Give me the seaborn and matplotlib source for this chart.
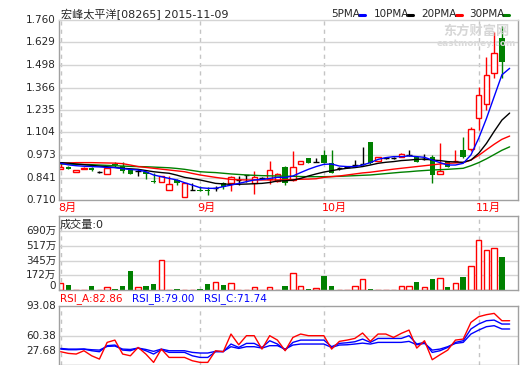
import matplotlib
matplotlib.use("Agg")
import matplotlib.pyplot as plt
import seaborn as sns

# data (price in HKD, volume in 万)
title = "宏峰太平洋[08265] 2015-11-09"
opens = [0.890, 0.905, 0.875, 0.890, 0.895, 0.871, 0.861, 0.922, 0.910, 0.885,
         0.879, 0.872, 0.821, 0.813, 0.768, 0.828, 0.729, 0.768, 0.771, 0.771,
         0.780, 0.807, 0.812, 0.826, 0.855, 0.812, 0.836, 0.830, 0.820, 0.904,
         0.825, 0.922, 0.955, 0.932, 0.973, 0.924, 0.899, 0.905, 0.914, 0.920,
         1.050, 0.940, 0.955, 0.955, 0.963, 0.970, 0.963, 0.950, 0.963, 0.862,
         0.934, 0.935, 1.002, 1.006, 1.186, 1.270, 1.449, 1.653]
highs = [0.930, 0.910, 0.885, 0.900, 0.900, 0.878, 0.894, 0.930, 0.930, 0.886,
         0.890, 0.877, 0.870, 0.850, 0.850, 0.835, 0.807, 0.807, 0.790, 0.785,
         0.792, 0.815, 0.850, 0.850, 0.857, 0.880, 0.845, 0.940, 0.870, 0.910,
         0.995, 0.940, 0.957, 0.955, 1.000, 1.000, 0.900, 0.910, 0.943, 1.020,
         1.050, 0.960, 0.963, 0.960, 0.985, 1.000, 0.965, 0.980, 0.970, 1.040,
         0.940, 1.000, 1.080, 1.138, 1.367, 1.546, 1.692, 1.725]
lows = [0.888, 0.888, 0.875, 0.888, 0.882, 0.866, 0.861, 0.905, 0.870, 0.860,
        0.852, 0.835, 0.812, 0.813, 0.766, 0.800, 0.725, 0.768, 0.762, 0.737,
        0.765, 0.775, 0.765, 0.800, 0.815, 0.745, 0.830, 0.805, 0.815, 0.800,
        0.820, 0.918, 0.924, 0.930, 0.926, 0.866, 0.885, 0.895, 0.910, 0.914,
        0.920, 0.935, 0.948, 0.950, 0.960, 0.965, 0.930, 0.945, 0.810, 0.860,
        0.900, 0.930, 0.953, 0.998, 1.120, 1.235, 1.420, 1.420]
closes = [0.900, 0.892, 0.885, 0.898, 0.885, 0.871, 0.894, 0.913, 0.878, 0.862,
          0.879, 0.864, 0.814, 0.850, 0.803, 0.810, 0.807, 0.768, 0.764, 0.764,
          0.780, 0.784, 0.845, 0.826, 0.855, 0.845, 0.836, 0.885, 0.860, 0.810,
          0.902, 0.936, 0.926, 0.932, 0.928, 0.870, 0.899, 0.905, 0.914, 0.920,
          0.924, 0.959, 0.955, 0.955, 0.976, 0.970, 0.934, 0.950, 0.856, 0.879,
          0.905, 0.940, 0.959, 1.122, 1.322, 1.439, 1.565, 1.517]
volume = [88, 57, 3, 3, 46, 3, 31, 11, 46, 218, 31, 46, 69, 353, 3, 11, 3, 3, 11, 69,
          92, 57, 88, 3, 3, 31, 3, 31, 3, 46, 195, 42, 11, 23, 161, 46, 3, 3, 42, 134,
          8, 3, 3, 3, 42, 42, 92, 31, 126, 146, 34, 80, 150, 288, 583, 468, 491, 391]

# indicator lines run one day further (11-09, no trades)
ma5 = [0.924, 0.915, 0.910, 0.907, 0.905, 0.903, 0.900, 0.899, 0.893, 0.888,
       0.885, 0.875, 0.856, 0.846, 0.836, 0.827, 0.811, 0.797, 0.782, 0.778,
       0.778, 0.788, 0.797, 0.807, 0.817, 0.827, 0.830, 0.836, 0.842, 0.842,
       0.850, 0.870, 0.889, 0.905, 0.918, 0.920, 0.908, 0.905, 0.905, 0.914,
       0.928, 0.947, 0.957, 0.963, 0.963, 0.967, 0.963, 0.959, 0.943, 0.928,
       0.914, 0.914, 0.924, 0.973, 1.070, 1.185, 1.313, 1.440, 1.478]
ma10 = [0.928, 0.925, 0.920, 0.916, 0.912, 0.908, 0.904, 0.900, 0.895, 0.892,
        0.889, 0.882, 0.875, 0.870, 0.866, 0.855, 0.842, 0.835, 0.827, 0.817,
        0.807, 0.804, 0.801, 0.802, 0.803, 0.805, 0.807, 0.812, 0.821, 0.822,
        0.826, 0.836, 0.850, 0.862, 0.873, 0.881, 0.889, 0.895, 0.899, 0.905,
        0.914, 0.924, 0.930, 0.934, 0.940, 0.943, 0.947, 0.949, 0.943, 0.940,
        0.934, 0.932, 0.930, 0.943, 0.982, 1.040, 1.110, 1.176, 1.217]
ma20 = [0.924, 0.926, 0.928, 0.928, 0.928, 0.927, 0.926, 0.925, 0.922, 0.914,
        0.905, 0.900, 0.895, 0.890, 0.885, 0.880, 0.875, 0.865, 0.856, 0.849,
        0.842, 0.836, 0.830, 0.828, 0.827, 0.827, 0.827, 0.827, 0.827, 0.828,
        0.830, 0.831, 0.832, 0.834, 0.842, 0.846, 0.850, 0.856, 0.862, 0.868,
        0.872, 0.878, 0.884, 0.890, 0.895, 0.900, 0.905, 0.910, 0.915, 0.920,
        0.924, 0.926, 0.928, 0.943, 0.970, 1.003, 1.035, 1.064, 1.083]
ma30 = [0.920, 0.919, 0.918, 0.917, 0.916, 0.914, 0.912, 0.910, 0.908, 0.906,
        0.905, 0.904, 0.902, 0.900, 0.898, 0.894, 0.889, 0.882, 0.875, 0.872,
        0.870, 0.866, 0.862, 0.859, 0.856, 0.854, 0.852, 0.851, 0.850, 0.849,
        0.848, 0.847, 0.846, 0.846, 0.846, 0.847, 0.848, 0.850, 0.852, 0.854,
        0.856, 0.860, 0.864, 0.868, 0.872, 0.875, 0.879, 0.882, 0.885, 0.887,
        0.889, 0.892, 0.895, 0.910, 0.928, 0.950, 0.975, 1.000, 1.020]

rsi_a = [42.9, 41.1, 40.4, 44.0, 38.5, 34.9, 53.1, 55.6, 40.4, 38.5,
         47.6, 40.4, 31.3, 45.8, 36.7, 36.7, 36.7, 33.1, 31.3, 31.3,
         44.0, 42.9, 62.2, 50.5, 60.4, 60.4, 45.8, 60.4, 55.6, 44.0,
         58.5, 62.2, 60.4, 60.4, 60.4, 45.8, 54.2, 55.6, 57.4, 63.3,
         54.2, 62.2, 62.2, 58.5, 62.9, 66.5, 46.9, 54.9, 34.2, 39.6,
         44.7, 55.6, 56.7, 74.9, 81.1, 83.3, 84.7, 76.7, 76.7]
rsi_b = [45.8, 45.1, 45.1, 45.8, 44.0, 42.9, 49.5, 50.2, 44.7, 44.0,
         46.9, 44.0, 40.4, 45.1, 42.2, 42.2, 42.2, 38.5, 36.7, 36.7,
         42.9, 42.9, 51.3, 47.6, 52.0, 52.0, 47.6, 54.9, 51.3, 44.7,
         53.1, 55.6, 55.6, 55.6, 55.6, 48.4, 52.0, 52.7, 53.8, 56.7,
         53.1, 57.4, 57.4, 57.4, 57.4, 60.4, 51.3, 53.1, 42.2, 44.0,
         47.6, 53.1, 54.9, 67.7, 73.1, 76.7, 77.4, 73.1, 73.1]
rsi_c = [46.5, 45.8, 45.8, 45.8, 45.1, 44.7, 48.7, 49.1, 45.8, 45.4,
         46.9, 45.4, 43.3, 45.8, 44.0, 44.0, 44.0, 42.2, 41.5, 41.5,
         43.3, 43.3, 48.4, 46.5, 48.4, 48.4, 46.9, 49.5, 49.5, 45.8,
         50.2, 51.3, 51.3, 51.3, 51.3, 47.6, 50.2, 50.5, 51.3, 52.3,
         51.3, 53.1, 53.1, 53.1, 53.1, 54.2, 50.5, 52.0, 44.7, 45.8,
         48.4, 52.0, 53.1, 62.2, 66.5, 70.2, 71.3, 67.7, 67.7]

price_ticks = [0.710, 0.841, 0.973, 1.104, 1.235, 1.366, 1.498, 1.629, 1.760]
price_labels = ["0.710", "0.841", "0.973", "1.104", "1.235", "1.366", "1.498", "1.629", "1.760"]
vol_ticks = [172.5, 345, 517.5, 690]
vol_labels = ["172万", "345万", "517万", "690万"]
months = ["8月", "9月", "10月", "11月"]
month_pos = [0, 18, 34, 54]

RED, GREEN, BLUE = "#ff0000", "#008000", "#0000ff"
GRID, FRAME = "#d4d4d4", "#a0a0a0"
W, H = 520, 365

sns.set_style("white")
plt.rcParams["font.family"] = ["DejaVu Sans", "Noto Sans CJK SC"]

fig = plt.figure(figsize=(W / 100, H / 100), dpi=100)
fig.patch.set_facecolor("white")


def px_axes(x0, y0, x1, y1):
    return fig.add_axes([x0 / W, 1 - y1 / H, (x1 - x0) / W, (y1 - y0) / H])


def ftext(x, y, s, **kw):
    kw.setdefault("fontsize", 7.5)
    kw.setdefault("va", "center")
    fig.text(x / W, 1 - y / H, s, **kw)


def frame(ax, top_color=FRAME):
    for side in ["left", "right", "bottom"]:
        ax.spines[side].set_color(FRAME)
        ax.spines[side].set_linewidth(1)
    ax.spines["top"].set_color(top_color)
    ax.spines["top"].set_linewidth(1)
    ax.set_xticks([])
    ax.set_yticks([])
    ax.set_xlim(-0.22, 59.08)
    for p in month_pos:
        ax.axvline(p, color="#c4c4c4", lw=1, ls=(0, (3, 3)), zorder=0)


idx = list(range(len(closes)))
line_idx = list(range(len(ma5)))
bw = 0.7

# ---- price panel
ax = px_axes(59, 20, 518, 200)
frame(ax, top_color=GRID)
ax.set_ylim(0.710, 1.760)
for t in price_ticks[1:-1]:
    ax.axhline(t, color=GRID, lw=1, zorder=0)

for i in idx:
    o, h, l, c = opens[i], highs[i], lows[i], closes[i]
    if c > o:
        ax.bar(i, c - o, bottom=o, width=bw, facecolor="white", edgecolor=RED, lw=1, zorder=2)
        ax.vlines(i, c, h, color=RED, lw=1, zorder=2)
        ax.vlines(i, l, o, color=RED, lw=1, zorder=2)
    elif c < o:
        ax.bar(i, o - c, bottom=c, width=bw, color=GREEN, lw=0, zorder=2)
        ax.vlines(i, l, h, color=GREEN, lw=1, zorder=2)
    else:
        ax.hlines(o, i - bw / 2, i + bw / 2, color="black", lw=1, zorder=2)
        ax.vlines(i, l, h, color="black", lw=1, zorder=2)

for ma, col in [(ma30, GREEN), (ma20, RED), (ma10, "black"), (ma5, BLUE)]:
    sns.lineplot(x=line_idx, y=ma, ax=ax, color=col, lw=1, legend=False, zorder=3)
ax.set_xlabel("")
ax.set_ylabel("")

for t, s in zip(price_ticks, price_labels):
    ftext(56, 200 - (t - 0.710) / (1.760 - 0.710) * 180, s, ha="right")

ftext(61, 14, title, fontsize=8)
legend = [("5PMA", 331, 359, BLUE), ("10PMA", 374, 407, "black"),
          ("20PMA", 421, 456, RED), ("30PMA", 469, 503, GREEN)]
for name, tx, lx, col in legend:
    ftext(tx, 14, name, fontsize=7.5)
    fig.add_artist(plt.Line2D([lx / W, (lx + 6) / W], [1 - 14.5 / H] * 2, color=col, lw=2.2))

ftext(476, 31, "东方财富网", fontsize=9.5, color="#d6d6d6", ha="center", weight="bold")
ftext(476, 43, "eastmoney.com", fontsize=6.5, color="#dadada", ha="center", weight="bold")

for m, p in zip(months, month_pos):
    ftext(60.7 + p * 7.74 - 2.5, 208, m, color=RED, fontsize=8)

# ---- volume panel
axv = px_axes(59, 216, 518, 290)
frame(axv)
axv.set_ylim(0, 870)
for t in vol_ticks:
    axv.axhline(t, color=GRID, lw=1, zorder=0)
for i in idx:
    v = max(volume[i], 2)
    if closes[i] >= opens[i]:
        axv.bar(i, v, width=bw, facecolor="white", edgecolor=RED, lw=1, zorder=2)
    else:
        axv.bar(i, v, width=bw, color=GREEN, lw=0, zorder=2)
ftext(60, 225, "成交量:0", fontsize=8)
for t, s in zip(vol_ticks, vol_labels):
    ftext(56, 290 - t / 870 * 74, s, ha="right")
ftext(56, 286, "0", ha="right")

# ---- RSI panel
axr = px_axes(59, 305.7, 518, 365)
frame(axr)
axr.set_ylim(28.45, 93.08)
axr.axhline(60.38, color=GRID, lw=1, zorder=0)
sns.lineplot(x=line_idx, y=rsi_c, ax=axr, color=BLUE, lw=1, legend=False, zorder=2)
sns.lineplot(x=line_idx, y=rsi_b, ax=axr, color=BLUE, lw=1, legend=False, zorder=2)
sns.lineplot(x=line_idx, y=rsi_a, ax=axr, color=RED, lw=1, legend=False, zorder=3)
axr.set_xlabel("")
axr.set_ylabel("")
ftext(60, 299, "RSI_A:82.86", color=RED)
ftext(132, 299, "RSI_B:79.00", color=BLUE)
ftext(204, 299, "RSI_C:71.74", color=BLUE)
ftext(56, 305.7, "93.08", ha="right")
ftext(56, 335.7, "60.38", ha="right")
ftext(56, 351, "27.68", ha="right")

fig.savefig("out.png", dpi=100, facecolor="white")
